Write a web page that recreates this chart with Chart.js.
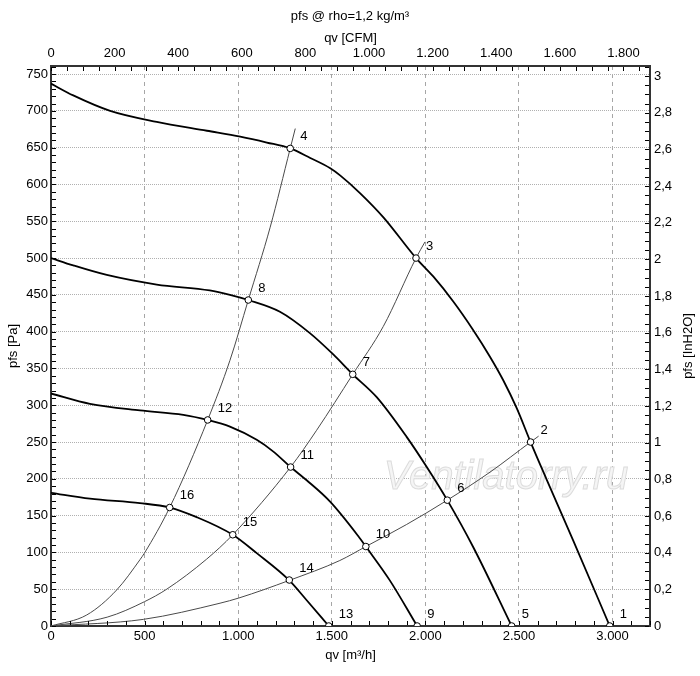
<!DOCTYPE html>
<html><head><meta charset="utf-8">
<script src="https://cdn.jsdelivr.net/npm/chart.js@4.4.1/dist/chart.umd.min.js"></script>
<style>html,body{margin:0;padding:0;background:#fff}#wrap{width:700px;height:676px}</style>
</head><body><div id="wrap"><canvas id="c" width="700" height="676"></canvas></div>
<script>
// ---- data ----
const fan1Qv = [0,119,316,565,833,1011,1153,1278,1385,1492,1546,1652,1777,1950,2042,2149,2256,2345,2416,2488,2562,2648,2790,2985];
const fan1Pa = [737,721,700,685,673,665,657,649,636,622,612,588,555,500,475,441,402,366,334,296,250,199,116,0];
const fan2Qv = [0,119,298,565,848,956,1054,1223,1383,1508,1612,1740,1900,2010,2117,2256,2461];
const fan2Pa = [500,490,477,464,456,450,443,427,398,369,342,311,257,215,171,107,0];
const fan3Qv = [0,208,475,707,837,956,1099,1188,1280,1366,1491,1642,1682,1810,1956];
const fan3Pa = [316,302,293,287,280,271,253,237,216,198,169,122,108,62,0];
const fan4Qv = [0,208,475,634,778,971,1099,1273,1366,1484];
const fan4Pa = [181,173,167,161,148,124,99,62,35,0];

const sysAQv = [0,191,351,475,499,634,837,956,1054,1171,1278,1305];
const sysAPa = [0,15,49,90,99,161,280,361,443,542,649,676];
const sysBQv = [0,300,499,618,832,971,1280,1419,1612,1775,1950,1998];
const sysBPa = [0,12,33,50,91,124,216,266,342,407,500,522];
const sysCQv = [0,493,903,1003,1273,1543,1682,1900,2117,2345,2562,2605];
const sysCPa = [0,9,31,38,62,89,108,138,171,209,250,258];

const opLabels = ['1','2','3','4','5','6','7','8','9','10','11','12','13','14','15','16'];
const opQv = [2985,2562,1950,1278,2461,2117,1612,1054,1956,1682,1280,837,1484,1273,971,634];
const opPa = [0,250,500,649,0,171,342,443,0,108,216,280,0,62.5,124,161];

const qvTicks  = [0,500,1000,1500,2000,2500,3000];
const cfmTicks = [0,200,400,600,800,1000,1200,1400,1600,1800];
const paTicks  = [0,50,100,150,200,250,300,350,400,450,500,550,600,650,700,750];
const inTicks  = [0,0.2,0.4,0.6,0.8,1,1.2,1.4,1.6,1.8,2,2.2,2.4,2.6,2.8,3];

const QV_MAX = 3200, PA_MAX = 761;
const M3H_PER_CFM = 1.699, PA_PER_INH2O = 249.09;

// ---- helpers ----
const pts = (xs, ys) => xs.map((x, i) => ({x, y: ys[i]}));
const fmtK = v => { const r = Math.round(v); return r >= 1000 ? Math.floor(r/1000) + '.' + String(r % 1000).padStart(3,'0') : String(r); };
const fmtD = v => String(Math.round(v*10)/10).replace('.', ',');
const setTicks = arr => s => { s.ticks = arr.map(v => ({value: v})); };

Chart.defaults.font.family = '"Liberation Sans", Arial, Helvetica, sans-serif';
Chart.defaults.font.size = 13;
Chart.defaults.color = '#000';

const fanStyle = {showLine:true, borderColor:'#000', borderWidth:1.8, pointRadius:0, cubicInterpolationMode:'monotone', fill:false};
const sysStyle = {showLine:true, borderColor:'#4a4a4a', borderWidth:1, pointRadius:0, cubicInterpolationMode:'monotone', fill:false};

const inwardTicks = {
  id:'inwardTicks',
  afterDraw(chart){
    const {ctx, chartArea:a, scales} = chart;
    ctx.save(); ctx.strokeStyle = '#000'; ctx.lineWidth = 1;
    const run = (scale, step, side) => {
      const n = Math.floor(scale.max / step + 1e-6);
      for (let i = 0; i <= n; i++) {
        const p = Math.round(scale.getPixelForValue(i*step)) + 0.5;
        const len = 4;
        ctx.beginPath();
        if (side === 'b') { ctx.moveTo(p, a.bottom - 1); ctx.lineTo(p, a.bottom - 1 - len); }
        if (side === 't') { ctx.moveTo(p, a.top + 1); ctx.lineTo(p, a.top + 1 + len); }
        if (side === 'l') { ctx.moveTo(a.left + 1, p); ctx.lineTo(a.left + 1 + len, p); }
        if (side === 'r') { ctx.moveTo(a.right - 1, p); ctx.lineTo(a.right - 1 - len, p); }
        ctx.stroke();
      }
    };
    run(scales.x, 100, 'b');
    run(scales.x2, 50, 't');
    run(scales.y, 10, 'l');
    run(scales.y2, 0.05, 'r');
    // right axis title, reading bottom-to-top
    ctx.fillStyle = '#000';
    ctx.font = '13px "Liberation Sans", Arial, sans-serif';
    ctx.translate(688, (a.top + a.bottom)/2);
    ctx.rotate(-Math.PI/2);
    ctx.textAlign = 'center'; ctx.textBaseline = 'middle';
    ctx.fillText('pfs [InH2O]', 0, 0);
    ctx.restore();
  },
  beforeDatasetsDraw(chart){
    const {ctx} = chart;
    ctx.save();
    ctx.font = 'italic 40px "Liberation Sans", Arial, sans-serif';
    ctx.textAlign = 'center'; ctx.textBaseline = 'middle';
    ctx.fillStyle = '#f5f5f5';
    ctx.strokeStyle = '#dcdcdc';
    ctx.lineWidth = 1;
    ctx.fillText('Ventilatorry.ru', 506, 478);
    ctx.strokeText('Ventilatorry.ru', 506, 478);
    ctx.restore();
  },
  afterDatasetsDraw(chart){
    const {ctx} = chart;
    const meta = chart.getDatasetMeta(0);
    ctx.save();
    ctx.fillStyle = '#000';
    ctx.font = '13px "Liberation Sans", Arial, sans-serif';
    ctx.textAlign = 'left'; ctx.textBaseline = 'middle';
    meta.data.forEach((el, i) => ctx.fillText(opLabels[i], el.x + 10, el.y - 12));
    ctx.restore();
  }
};

new Chart(document.getElementById('c'), {
  type:'scatter',
  data:{ datasets:[
    {data:pts(opQv, opPa), showLine:false, pointRadius:3.3, pointHoverRadius:3.3, pointBackgroundColor:'#fff', pointBorderColor:'#000', pointBorderWidth:1},
    Object.assign({data:pts(fan1Qv, fan1Pa)}, fanStyle),
    Object.assign({data:pts(fan2Qv, fan2Pa)}, fanStyle),
    Object.assign({data:pts(fan3Qv, fan3Pa)}, fanStyle),
    Object.assign({data:pts(fan4Qv, fan4Pa)}, fanStyle),
    Object.assign({data:pts(sysAQv, sysAPa)}, sysStyle),
    Object.assign({data:pts(sysBQv, sysBPa)}, sysStyle),
    Object.assign({data:pts(sysCQv, sysCPa)}, sysStyle)
  ]},
  options:{
    responsive:false, animation:false, events:[],
    layout:{padding:0},
    plugins:{
      legend:{display:false}, tooltip:{enabled:false},
      title:{display:true, text:'pfs @ rho=1,2 kg/m³', color:'#000', font:{size:13, weight:'normal'}, padding:{top:9, bottom:0}}
    },
    scales:{
      x:{type:'linear', position:'bottom', min:0, max:QV_MAX,
        afterBuildTicks:setTicks(qvTicks), afterFit:s => { s.height = 50; },
        ticks:{callback:v => fmtK(v), padding:3, maxRotation:0, autoSkip:false, color:'#000'},
        grid:{drawTicks:false, color:'#a6a6a6', lineWidth:1},
        border:{display:true, color:'#333', width:2, dash:[4,4]},
        title:{display:true, text:'qv [m³/h]', color:'#000', padding:{top:0, bottom:13}}},
      x2:{type:'linear', position:'top', min:0, max:QV_MAX / M3H_PER_CFM,
        afterBuildTicks:setTicks(cfmTicks), afterFit:s => { s.height = 41.4; },
        ticks:{callback:v => fmtK(v), padding:5, maxRotation:0, autoSkip:false, color:'#000'},
        grid:{display:false, drawTicks:false},
        border:{display:true, color:'#333', width:2},
        title:{display:true, text:'qv [CFM]', color:'#000', padding:{top:6, bottom:0}}},
      y:{type:'linear', position:'left', min:0, max:PA_MAX,
        afterBuildTicks:setTicks(paTicks), afterFit:s => { s.width = 51; },
        ticks:{callback:v => String(v), padding:3, autoSkip:false, color:'#000'},
        grid:{drawTicks:false, color:'#b0b0b0', lineWidth:1},
        border:{display:true, color:'#333', width:2, dash:[1,1]},
        title:{display:true, text:'pfs [Pa]', color:'#000', padding:{top:6, bottom:0}}},
      y2:{type:'linear', position:'right', min:0, max:PA_MAX / PA_PER_INH2O,
        afterBuildTicks:setTicks(inTicks), afterFit:s => { s.width = 50; },
        ticks:{callback:v => fmtD(v), padding:4, autoSkip:false, color:'#000'},
        grid:{display:false, drawTicks:false},
        border:{display:true, color:'#333', width:2}}
    }
  },
  plugins:[inwardTicks]
});
</script></body></html>
